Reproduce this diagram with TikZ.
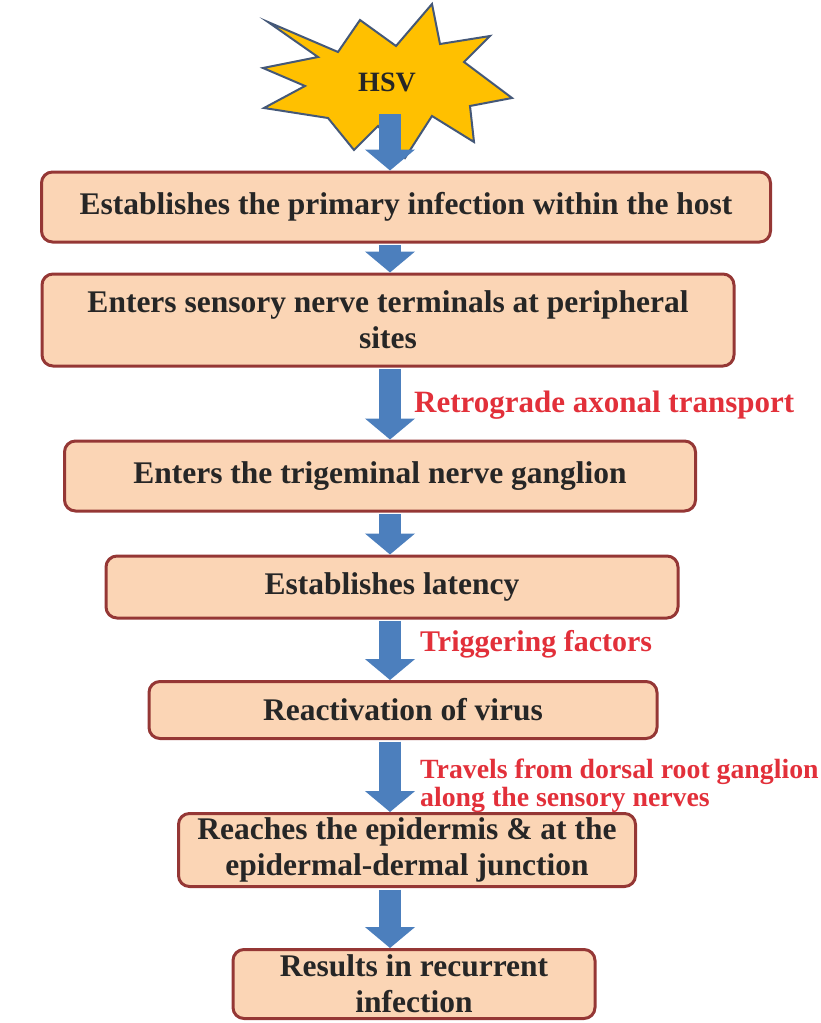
\documentclass[tikz,border=0pt]{standalone}
\usepackage{fontspec}
\setmainfont{Liberation Serif}
\usepackage{xcolor}
\definecolor{boxfill}{RGB}{251,213,181}
\definecolor{boxline}{RGB}{149,55,53}
\definecolor{flowblue}{RGB}{76,127,189}
\definecolor{notered}{RGB}{226,48,58}
\definecolor{stargold}{RGB}{255,192,0}
\definecolor{starline}{RGB}{68,88,120}
\usepackage{tikz}
\usetikzlibrary{arrows.meta, positioning}

\tikzset{
  stepbox/.style={draw=boxline, line width=3pt, fill=boxfill, rounded corners=11pt,
    font=\fontsize{31.5}{36}\selectfont\bfseries, text=black!85, align=center, inner sep=0pt},
  flow/.style={flowblue, line width=22pt, shorten <=1.5pt,
    -{Triangle[width=49pt, length=21pt]}},
  note/.style={anchor=west, text=notered, align=left, inner sep=0pt}
}

\begin{document}
\begin{tikzpicture}[x=1pt, y=-1pt]
\useasboundingbox (0,0) rectangle (821,1023);
\coordinate (spine) at (390,0);

% burst with the virus name
\draw[fill=stargold, draw=starline, line width=2pt, line join=miter]
  (268,22) -- (338,52) -- (360,20) -- (396,46) -- (432,4) -- (440,44) -- (490,36)
  -- (464,62) -- (512,98) -- (470,106) -- (474,142) -- (432,116) -- (405,158)
  -- (378,126) -- (354,150) -- (328,118) -- (264,108) -- (305,86) -- (263,68)
  -- (318,57) -- cycle;
\node[font=\fontsize{28}{32}\selectfont\bfseries, text=black!85] (hsv) at (387,82) {HSV};
\coordinate (hsvtail) at (390,114);

% steps
\node[stepbox, minimum width=729pt, minimum height=70pt] (box1) at (406,207)
  {Establishes the primary infection within the host};
\node[stepbox, minimum width=692pt, minimum height=92pt] (box2) at (388,320)
  {Enters sensory nerve terminals at peripheral\\sites};
\node[stepbox, minimum width=631pt, minimum height=70pt] (box3) at (380,476)
  {Enters the trigeminal nerve ganglion};
\node[stepbox, minimum width=572pt, minimum height=62pt] (box4) at (392,587)
  {Establishes latency};
\node[stepbox, minimum width=508pt, minimum height=57pt] (box5) at (403,710)
  {Reactivation of virus};
\node[stepbox, minimum width=457pt, minimum height=73pt] (box6) at (407,850)
  {Reaches the epidermis \& at the\\epidermal-dermal junction};
\node[stepbox, minimum width=362pt, minimum height=69pt] (box7) at (414,984)
  {Results in recurrent\\infection};

% arrows
\draw[flow, shorten <=0pt] (hsvtail) -- (box1.north -| spine);
\foreach \a/\b in {box1/box2, box2/box3, box3/box4, box4/box5, box5/box6, box6/box7}{
  \draw[flow] (\a.south -| spine) -- (\b.north -| spine);
}

% side notes
\node[note, font=\fontsize{31}{34}\selectfont\bfseries] (retro) at (414,405) {Retrograde axonal transport};
\node[note, font=\fontsize{30}{33}\selectfont\bfseries] (trigger) at (420,644) {Triggering factors};
\node[note, font=\fontsize{27.8}{28}\selectfont\bfseries] (travel) at (420,786) {Travels from dorsal root ganglion\\along the sensory nerves};
\end{tikzpicture}
\end{document}
